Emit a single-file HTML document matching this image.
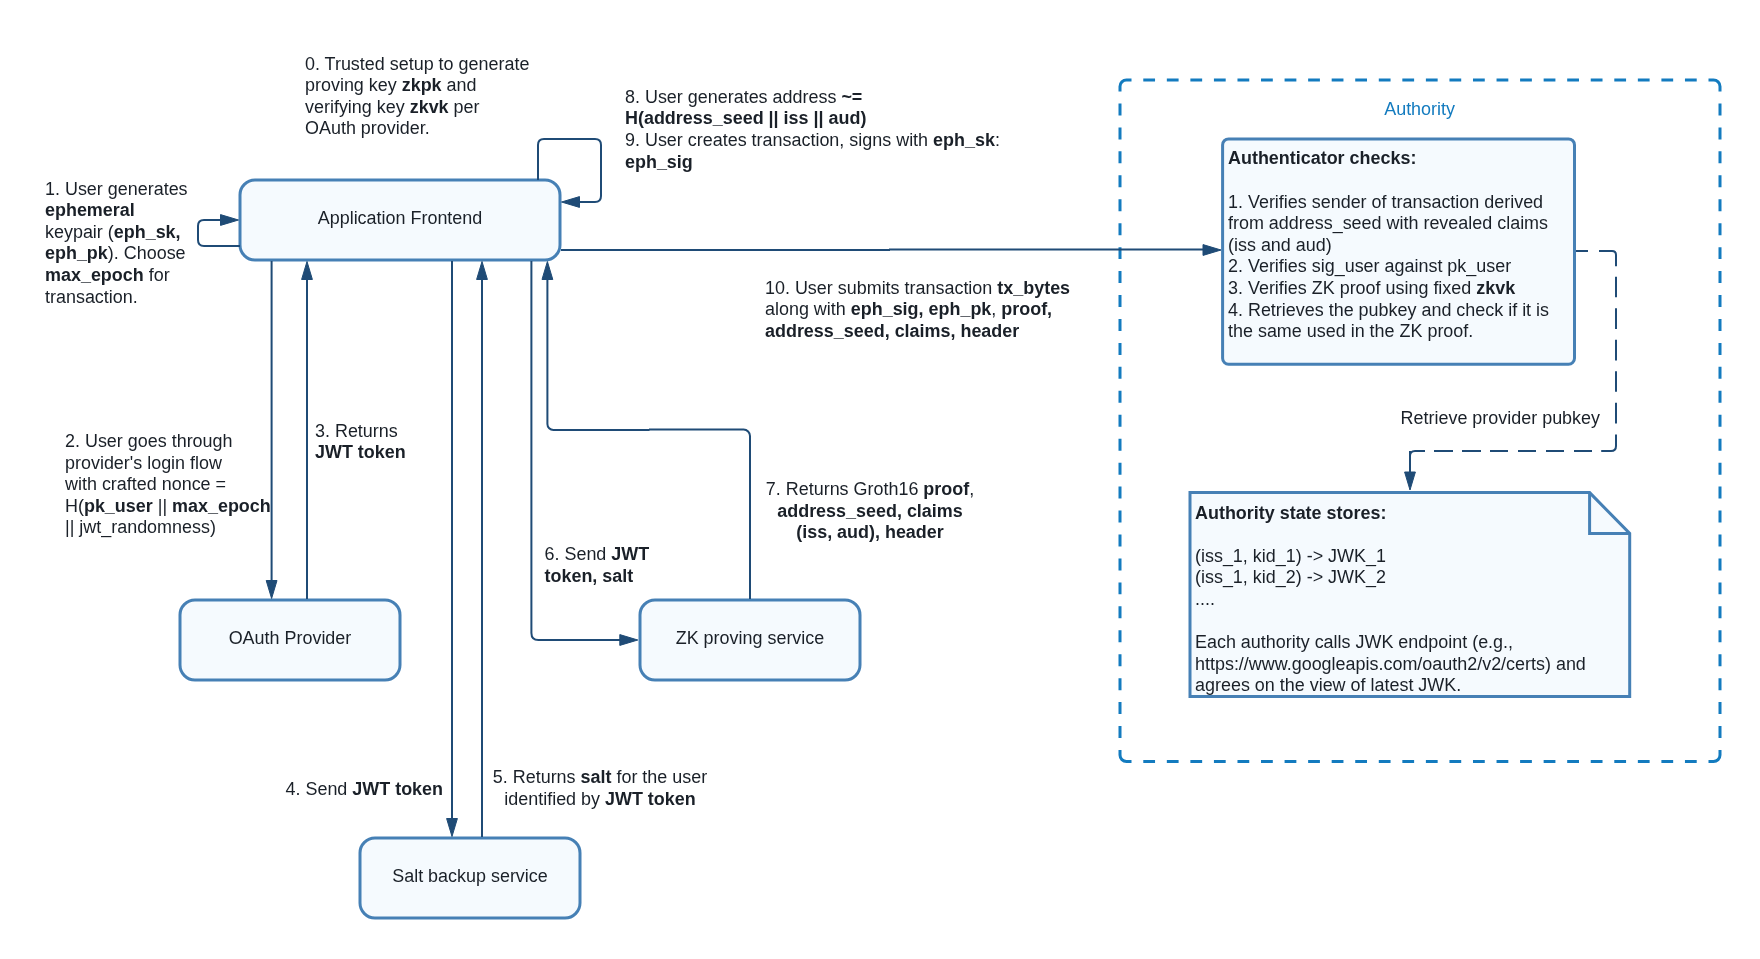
<!DOCTYPE html>
<html><head><meta charset="utf-8"><title>zkLogin flow</title>
<style>
html,body{margin:0;padding:0;background:#ffffff;width:1760px;height:959px;overflow:hidden}
svg{display:block;font-family:"Liberation Sans",sans-serif}
text{white-space:pre}
</style></head>
<body>
<svg width="1760" height="959" viewBox="0 0 1760 959">
<rect x="0" y="0" width="1760" height="959" fill="#ffffff"/>
<g id="boxes">
<rect x="240" y="180" width="320" height="80" rx="15" ry="15" fill="#f5fafe" stroke="#4680b5" stroke-width="3"/>
<rect x="180" y="600" width="220" height="80" rx="15" ry="15" fill="#f5fafe" stroke="#4680b5" stroke-width="3"/>
<rect x="640" y="600" width="220" height="80" rx="15" ry="15" fill="#f5fafe" stroke="#4680b5" stroke-width="3"/>
<rect x="360" y="838" width="220" height="80" rx="15" ry="15" fill="#f5fafe" stroke="#4680b5" stroke-width="3"/>
<rect x="1222.6" y="138.9" width="351.9000000000001" height="225.29999999999998" rx="6" ry="6" fill="#f5fafe" stroke="#4680b5" stroke-width="3"/>
<path d="M1190,492.6 H1589.6 L1629.7,533.4 V696.5 H1190 Z" fill="#f5fafe" stroke="#4680b5" stroke-width="3" stroke-linejoin="miter"/>
<path d="M1589.6,492.6 V533.4 H1629.7" fill="none" stroke="#4680b5" stroke-width="3"/>
<path d=" M1143.28,80 H1155.05 M1166.83,80 H1178.60 M1190.38,80 H1202.15 M1213.93,80 H1225.70 M1237.48,80 H1249.26 M1261.03,80 H1272.81 M1284.58,80 H1296.36 M1308.13,80 H1319.91 M1331.68,80 H1343.46 M1355.23,80 H1367.01 M1378.79,80 H1390.56 M1402.34,80 H1414.11 M1425.89,80 H1437.66 M1449.44,80 H1461.21 M1472.99,80 H1484.77 M1496.54,80 H1508.32 M1520.09,80 H1531.87 M1543.64,80 H1555.42 M1567.19,80 H1578.97 M1590.74,80 H1602.52 M1614.30,80 H1626.07 M1637.85,80 H1649.62 M1661.40,80 H1673.17 M1684.95,80 H1696.72 M1720,103.47 V115.45 M1720,127.42 V139.39 M1720,151.36 V163.34 M1720,175.31 V187.28 M1720,199.25 V211.23 M1720,223.20 V235.17 M1720,247.15 V259.12 M1720,271.09 V283.06 M1720,295.04 V307.01 M1720,318.98 V330.95 M1720,342.93 V354.90 M1720,366.87 V378.85 M1720,390.82 V402.79 M1720,414.76 V426.74 M1720,438.71 V450.68 M1720,462.65 V474.63 M1720,486.60 V498.57 M1720,510.55 V522.52 M1720,534.49 V546.46 M1720,558.44 V570.41 M1720,582.38 V594.35 M1720,606.33 V618.30 M1720,630.27 V642.25 M1720,654.22 V666.19 M1720,678.16 V690.14 M1720,702.11 V714.08 M1720,726.05 V738.03 M1696.72,761.5 H1684.95 M1673.17,761.5 H1661.40 M1649.62,761.5 H1637.85 M1626.07,761.5 H1614.30 M1602.52,761.5 H1590.74 M1578.97,761.5 H1567.19 M1555.42,761.5 H1543.64 M1531.87,761.5 H1520.09 M1508.32,761.5 H1496.54 M1484.77,761.5 H1472.99 M1461.21,761.5 H1449.44 M1437.66,761.5 H1425.89 M1414.11,761.5 H1402.34 M1390.56,761.5 H1378.79 M1367.01,761.5 H1355.23 M1343.46,761.5 H1331.68 M1319.91,761.5 H1308.13 M1296.36,761.5 H1284.58 M1272.81,761.5 H1261.03 M1249.26,761.5 H1237.48 M1225.70,761.5 H1213.93 M1202.15,761.5 H1190.38 M1178.60,761.5 H1166.83 M1155.05,761.5 H1143.28 M1120,738.03 V726.05 M1120,714.08 V702.11 M1120,690.14 V678.16 M1120,666.19 V654.22 M1120,642.25 V630.27 M1120,618.30 V606.33 M1120,594.35 V582.38 M1120,570.41 V558.44 M1120,546.46 V534.49 M1120,522.52 V510.55 M1120,498.57 V486.60 M1120,474.63 V462.65 M1120,450.68 V438.71 M1120,426.74 V414.76 M1120,402.79 V390.82 M1120,378.85 V366.87 M1120,354.90 V342.93 M1120,330.95 V318.98 M1120,307.01 V295.04 M1120,283.06 V271.09 M1120,259.12 V247.15 M1120,235.17 V223.20 M1120,211.23 V199.25 M1120,187.28 V175.31 M1120,163.34 V151.36 M1120,139.39 V127.42 M1120,115.45 V103.47 M1120,91.5 V86.5 A6.5,6.5 0 0 1 1126.5,80 H1131.5 M1708.5,80 H1713.5 A6.5,6.5 0 0 1 1720,86.5 V91.5 M1720,750.0 V755.0 A6.5,6.5 0 0 1 1713.5,761.5 H1708.5 M1131.5,761.5 H1126.5 A6.5,6.5 0 0 1 1120,755.0 V750.0" fill="none" stroke="#137bbf" stroke-width="3"/>
</g>
<g id="conn">
<path d="M240,246 H204 Q198,246 198,240 V226 Q198,220 204,220 H222" fill="none" stroke="#1f4b76" stroke-width="2" />
<polygon points="238.5,220 220.5,214.6 220.5,225.4" fill="#1f4b76" stroke="#1f4b76" stroke-width="1" stroke-linejoin="miter"/>
<path d="M538,180 V145 Q538,139 544,139 H595 Q601,139 601,145 V196 Q601,202 595,202 H578" fill="none" stroke="#1f4b76" stroke-width="2" />
<polygon points="561.5,202 579.5,196.6 579.5,207.4" fill="#1f4b76" stroke="#1f4b76" stroke-width="1" stroke-linejoin="miter"/>
<path d="M271.6,261 V582" fill="none" stroke="#1f4b76" stroke-width="2" />
<polygon points="271.6,598.5 266.20000000000005,580.5 277.0,580.5" fill="#1f4b76" stroke="#1f4b76" stroke-width="1" stroke-linejoin="miter"/>
<path d="M307,599 V278" fill="none" stroke="#1f4b76" stroke-width="2" />
<polygon points="307,261.5 301.6,279.5 312.4,279.5" fill="#1f4b76" stroke="#1f4b76" stroke-width="1" stroke-linejoin="miter"/>
<path d="M452,261 V820" fill="none" stroke="#1f4b76" stroke-width="2" />
<polygon points="452,836.5 446.6,818.5 457.4,818.5" fill="#1f4b76" stroke="#1f4b76" stroke-width="1" stroke-linejoin="miter"/>
<path d="M482,837 V278" fill="none" stroke="#1f4b76" stroke-width="2" />
<polygon points="482,261.5 476.6,279.5 487.4,279.5" fill="#1f4b76" stroke="#1f4b76" stroke-width="1" stroke-linejoin="miter"/>
<path d="M531.4,261 V633 Q531.4,640 538.4,640 H622" fill="none" stroke="#1f4b76" stroke-width="2" />
<polygon points="637.8,640 619.8,634.6 619.8,645.4" fill="#1f4b76" stroke="#1f4b76" stroke-width="1" stroke-linejoin="miter"/>
<path d="M750,599 V436 A6.4,6.4 0 0 0 743.6,429.6 H649" fill="none" stroke="#1f4b76" stroke-width="2" />
<path d="M649.5,430 H553.4 A6,6 0 0 1 547.4,424 V278" fill="none" stroke="#1f4b76" stroke-width="2" />
<polygon points="547.4,261.5 542.0,279.5 552.8,279.5" fill="#1f4b76" stroke="#1f4b76" stroke-width="1" stroke-linejoin="miter"/>
<path d="M561,250 H890 M889,249.5 H1205" fill="none" stroke="#1f4b76" stroke-width="2" />
<polygon points="1221,250 1203,244.6 1203,255.4" fill="#1f4b76" stroke="#1f4b76" stroke-width="1" stroke-linejoin="miter"/>
<path d="M1410,451 V474" fill="none" stroke="#1f4b76" stroke-width="2" />
<polygon points="1410,490 1404.6,472 1415.4,472" fill="#1f4b76" stroke="#1f4b76" stroke-width="1" stroke-linejoin="miter"/>
<path d="M1576,251 H1588 M1599,251 H1612 Q1616,251 1616,255 V266.3 M1616,276.7 V297.3 M1616,308.3 V329 M1616,339.8 V360.4 M1616,371.2 V391.8 M1616,402.8 V423.5 M1616,434.5 V446 Q1616,451 1611,451 H1601.2 M1592,451 H1574 M1564,451 H1546 M1536,451 H1518 M1508,451 H1490 M1481,451 H1462 M1453,451 H1434 M1425,451 H1415 Q1410,451 1410,456 V474" fill="none" stroke="#1f4b76" stroke-width="2" />
</g>
<g id="txt" style="will-change:transform">
<text x="400" y="224.25" text-anchor="middle" fill="#1a2028" font-size="17.94"><tspan>Application Frontend</tspan></text>
<text x="290" y="644.20" text-anchor="middle" fill="#1a2028" font-size="17.94"><tspan>OAuth Provider</tspan></text>
<text x="750" y="643.90" text-anchor="middle" fill="#1a2028" font-size="17.94"><tspan>ZK proving service</tspan></text>
<text x="470" y="881.60" text-anchor="middle" fill="#1a2028" font-size="17.94"><tspan>Salt backup service</tspan></text>
<text x="1419.6" y="114.70" text-anchor="middle" fill="#137bbf" font-size="17.94"><tspan>Authority</tspan></text>
<text x="305.0" y="69.60" text-anchor="start" fill="#1a2028" font-size="17.94"><tspan>0. Trusted setup to generate</tspan></text>
<text x="305.0" y="91.20" text-anchor="start" fill="#1a2028" font-size="17.94"><tspan>proving key </tspan><tspan font-weight="bold">zkpk</tspan><tspan> and</tspan></text>
<text x="305.0" y="112.80" text-anchor="start" fill="#1a2028" font-size="17.94"><tspan>verifying key </tspan><tspan font-weight="bold">zkvk</tspan><tspan> per</tspan></text>
<text x="305.0" y="134.40" text-anchor="start" fill="#1a2028" font-size="17.94"><tspan>OAuth provider.</tspan></text>
<text x="625.0" y="102.70" text-anchor="start" fill="#1a2028" font-size="17.94"><tspan>8. User generates address </tspan><tspan font-weight="bold">~=</tspan></text>
<text x="625.0" y="124.30" text-anchor="start" fill="#1a2028" font-size="17.94"><tspan font-weight="bold">H(address_seed || iss || aud)</tspan></text>
<text x="625.0" y="145.90" text-anchor="start" fill="#1a2028" font-size="17.94"><tspan>9. User creates transaction, signs with </tspan><tspan font-weight="bold">eph_sk</tspan><tspan>:</tspan></text>
<text x="625.0" y="167.50" text-anchor="start" fill="#1a2028" font-size="17.94"><tspan font-weight="bold">eph_sig</tspan></text>
<text x="45.0" y="194.60" text-anchor="start" fill="#1a2028" font-size="17.94"><tspan>1. User generates</tspan></text>
<text x="45.0" y="216.20" text-anchor="start" fill="#1a2028" font-size="17.94"><tspan font-weight="bold">ephemeral</tspan></text>
<text x="45.0" y="237.80" text-anchor="start" fill="#1a2028" font-size="17.94"><tspan>keypair (</tspan><tspan font-weight="bold">eph_sk,</tspan></text>
<text x="45.0" y="259.40" text-anchor="start" fill="#1a2028" font-size="17.94"><tspan font-weight="bold">eph_pk</tspan><tspan>). Choose</tspan></text>
<text x="45.0" y="281.00" text-anchor="start" fill="#1a2028" font-size="17.94"><tspan font-weight="bold">max_epoch</tspan><tspan> for</tspan></text>
<text x="45.0" y="302.60" text-anchor="start" fill="#1a2028" font-size="17.94"><tspan>transaction.</tspan></text>
<text x="65.0" y="447.00" text-anchor="start" fill="#1a2028" font-size="17.94"><tspan>2. User goes through</tspan></text>
<text x="65.0" y="468.60" text-anchor="start" fill="#1a2028" font-size="17.94"><tspan>provider's login flow</tspan></text>
<text x="65.0" y="490.20" text-anchor="start" fill="#1a2028" font-size="17.94"><tspan>with crafted nonce =</tspan></text>
<text x="65.0" y="511.80" text-anchor="start" fill="#1a2028" font-size="17.94"><tspan>H(</tspan><tspan font-weight="bold">pk_user</tspan><tspan> || </tspan><tspan font-weight="bold">max_epoch</tspan></text>
<text x="65.0" y="533.40" text-anchor="start" fill="#1a2028" font-size="17.94"><tspan>|| jwt_randomness)</tspan></text>
<text x="315.0" y="436.50" text-anchor="start" fill="#1a2028" font-size="17.94"><tspan>3. Returns</tspan></text>
<text x="315.0" y="458.10" text-anchor="start" fill="#1a2028" font-size="17.94"><tspan font-weight="bold">JWT token</tspan></text>
<text x="765.0" y="293.80" text-anchor="start" fill="#1a2028" font-size="17.94"><tspan>10. User submits transaction </tspan><tspan font-weight="bold">tx_bytes</tspan></text>
<text x="765.0" y="315.40" text-anchor="start" fill="#1a2028" font-size="17.94"><tspan>along with </tspan><tspan font-weight="bold">eph_sig, eph_pk</tspan><tspan>, </tspan><tspan font-weight="bold">proof,</tspan></text>
<text x="765.0" y="337.00" text-anchor="start" fill="#1a2028" font-size="17.94"><tspan font-weight="bold">address_seed, claims, header</tspan></text>
<text x="870" y="495.10" text-anchor="middle" fill="#1a2028" font-size="17.94"><tspan>7. Returns Groth16 </tspan><tspan font-weight="bold">proof</tspan><tspan>,</tspan></text>
<text x="870" y="516.70" text-anchor="middle" fill="#1a2028" font-size="17.94"><tspan font-weight="bold">address_seed, claims</tspan></text>
<text x="870" y="538.30" text-anchor="middle" fill="#1a2028" font-size="17.94"><tspan font-weight="bold">(iss, aud), header</tspan></text>
<text x="544.5" y="560.00" text-anchor="start" fill="#1a2028" font-size="17.94"><tspan>6. Send </tspan><tspan font-weight="bold">JWT</tspan></text>
<text x="544.5" y="581.60" text-anchor="start" fill="#1a2028" font-size="17.94"><tspan font-weight="bold">token, salt</tspan></text>
<text x="285.5" y="795.00" text-anchor="start" fill="#1a2028" font-size="17.94"><tspan>4. Send </tspan><tspan font-weight="bold">JWT token</tspan></text>
<text x="600" y="783.00" text-anchor="middle" fill="#1a2028" font-size="17.94"><tspan>5. Returns </tspan><tspan font-weight="bold">salt</tspan><tspan> for the user</tspan></text>
<text x="600" y="804.60" text-anchor="middle" fill="#1a2028" font-size="17.94"><tspan>identified by </tspan><tspan font-weight="bold">JWT token</tspan></text>
<text x="1228.0" y="164.30" text-anchor="start" fill="#1a2028" font-size="17.94"><tspan font-weight="bold">Authenticator checks:</tspan></text>
<text x="1228.0" y="207.50" text-anchor="start" fill="#1a2028" font-size="17.94"><tspan>1. Verifies sender of transaction derived</tspan></text>
<text x="1228.0" y="229.10" text-anchor="start" fill="#1a2028" font-size="17.94"><tspan>from address_seed with revealed claims</tspan></text>
<text x="1228.0" y="250.70" text-anchor="start" fill="#1a2028" font-size="17.94"><tspan>(iss and aud)</tspan></text>
<text x="1228.0" y="272.30" text-anchor="start" fill="#1a2028" font-size="17.94"><tspan>2. Verifies sig_user against pk_user</tspan></text>
<text x="1228.0" y="293.90" text-anchor="start" fill="#1a2028" font-size="17.94"><tspan>3. Verifies ZK proof using fixed </tspan><tspan font-weight="bold">zkvk</tspan></text>
<text x="1228.0" y="315.50" text-anchor="start" fill="#1a2028" font-size="17.94"><tspan>4. Retrieves the pubkey and check if it is</tspan></text>
<text x="1228.0" y="337.10" text-anchor="start" fill="#1a2028" font-size="17.94"><tspan>the same used in the ZK proof.</tspan></text>
<text x="1600" y="423.70" text-anchor="end" fill="#1a2028" font-size="17.94"><tspan>Retrieve provider pubkey</tspan></text>
<text x="1195.0" y="518.50" text-anchor="start" fill="#1a2028" font-size="17.94"><tspan font-weight="bold">Authority state stores:</tspan></text>
<text x="1195.0" y="561.70" text-anchor="start" fill="#1a2028" font-size="17.94"><tspan>(iss_1, kid_1) -&gt; JWK_1</tspan></text>
<text x="1195.0" y="583.30" text-anchor="start" fill="#1a2028" font-size="17.94"><tspan>(iss_1, kid_2) -&gt; JWK_2</tspan></text>
<text x="1195.0" y="604.90" text-anchor="start" fill="#1a2028" font-size="17.94"><tspan>....</tspan></text>
<text x="1195.0" y="648.10" text-anchor="start" fill="#1a2028" font-size="17.94"><tspan>Each authority calls JWK endpoint (e.g.,</tspan></text>
<text x="1195.0" y="669.70" text-anchor="start" fill="#1a2028" font-size="17.94"><tspan>https://www.googleapis.com/oauth2/v2/certs) and</tspan></text>
<text x="1195.0" y="691.30" text-anchor="start" fill="#1a2028" font-size="17.94"><tspan>agrees on the view of latest JWK.</tspan></text>
</g>
</svg>
</body></html>
